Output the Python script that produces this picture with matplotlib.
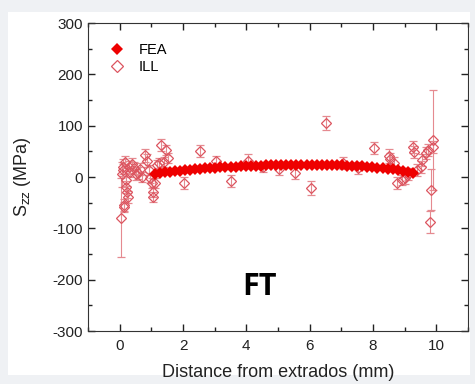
import matplotlib.pyplot as plt
from matplotlib.lines import Line2D
from matplotlib.patches import Rectangle
from matplotlib.ticker import MultipleLocator

plt.rcParams['font.family'] = ['Liberation Sans', 'DejaVu Sans']
plt.rcParams['axes.unicode_minus'] = False

# FEA prediction (filled diamonds)
fea_x = [1.10, 1.26, 1.42, 1.58, 1.74, 1.90, 2.06, 2.22, 2.38, 2.54, 2.70, 2.86, 3.02,
         3.18, 3.34, 3.50, 3.66, 3.82, 3.98, 4.14, 4.30, 4.46, 4.62, 4.78, 4.94, 5.10,
         5.26, 5.42, 5.58, 5.74, 5.90, 6.06, 6.22, 6.38, 6.54, 6.70, 6.86, 7.02, 7.18,
         7.34, 7.50, 7.66, 7.82, 7.98, 8.14, 8.30, 8.46, 8.62, 8.78, 8.94, 9.10, 9.26]
fea_y = [5, 7, 9, 10, 11, 12, 13, 14, 15, 16, 17, 17, 18,
         19, 19, 20, 20, 21, 21, 22, 22, 22, 23, 23, 23, 23,
         24, 24, 24, 24, 24, 24, 24, 24, 24, 23, 23, 23, 22,
         22, 21, 21, 20, 19, 18, 17, 16, 15, 14, 12, 10, 8]

# ILL measurements (open diamonds with error bars)
ill_x = [0.05, 0.08, 0.10, 0.12, 0.13, 0.15, 0.17, 0.19, 0.20, 0.22, 0.25, 0.28, 0.33,
         0.38, 0.44, 0.50, 0.57, 0.65, 0.72, 0.80, 0.85, 0.91, 0.95, 1.02, 1.04, 1.06,
         1.13, 1.19, 1.23, 1.29, 1.41, 1.45, 1.54, 2.04, 2.55, 3.05, 3.52, 4.06, 4.53,
         5.03, 5.53, 6.03, 6.53, 7.04, 7.52, 8.02, 8.49, 8.55, 8.65, 8.77, 8.90, 9.00,
         9.12, 9.25, 9.28, 9.40, 9.50, 9.56, 9.68, 9.75, 9.88, 9.90, 9.84, 9.81]
ill_y = [-79, 5, 20, 14, -59, -55, 29, -6, -19, -29, -39, 20, 10,
         25, 18, 5, 8, 15, 0, 42, 32, 14, -2, -12, -29, -39,
         -12, 23, 27, 62, 29, 52, 37, -12, 51, 31, -8, 32, 20,
         15, 8, -21, 105, 27, 17, 57, 41, 35, 27, -12, -6, -2,
         6, 59, 49, 14, 20, 33, 47, 53, 72, 59, -25, -88]
ill_err = [77, 25, 15, 12, 10, 12, 12, 12, 12, 12, 12, 12, 10,
           12, 12, 10, 12, 12, 10, 12, 12, 10, 10, 10, 10, 10,
           10, 10, 10, 12, 10, 10, 10, 12, 12, 10, 12, 12, 10,
           12, 12, 14, 14, 12, 12, 12, 14, 12, 12, 12, 10, 12,
           12, 12, 12, 12, 12, 12, 12, 12, 97, 12, 40, 22]

ill_edge = '#dc5560'
fea_color = '#ee0000'

fig = plt.figure(figsize=(4.75, 3.84), dpi=100)
fig.patch.set_facecolor('#eff1f4')
fig.patches.append(Rectangle((0.017, 0.023), 0.972, 0.946, transform=fig.transFigure,
                             facecolor='white', edgecolor='none', zorder=-1))

ax = fig.add_axes([0.1853, 0.138, 0.80, 0.802])

ax.errorbar(ill_x, ill_y, yerr=ill_err, fmt='D', mfc='none', mec=ill_edge, mew=0.9,
            ms=5.5, ecolor='#e58a90', elinewidth=0.8, capsize=3, capthick=0.8,
            zorder=2)
ax.plot(fea_x, fea_y, 'D', color=fea_color, ms=6, mew=0, zorder=3)

ax.set_xlim(-1, 11)
ax.set_ylim(-300, 300)
ax.xaxis.set_major_locator(MultipleLocator(2))
ax.xaxis.set_minor_locator(MultipleLocator(1))
ax.yaxis.set_major_locator(MultipleLocator(100))
ax.yaxis.set_minor_locator(MultipleLocator(50))
ax.tick_params(which='both', direction='in', top=True, right=True, labelsize=11,
               colors='#222222')
ax.tick_params(which='major', length=5, width=1)
ax.tick_params(which='minor', length=3, width=1)
ax.tick_params(axis='x', pad=6)
for sp in ax.spines.values():
    sp.set_color('#333333')

ax.set_xlabel('Distance from extrados (mm)', fontsize=13, color='#222222', labelpad=8)
ax.set_ylabel(r'S$_{\mathrm{zz}}$ (MPa)', fontsize=13, color='#222222', labelpad=14)

# legend handles without the error bars
handles = [Line2D([], [], ls='none', marker='D', color=fea_color, ms=6, mew=0),
           Line2D([], [], ls='none', marker='D', mfc='none', mec=ill_edge, ms=6, mew=0.9)]
ax.legend(handles, ['FEA', 'ILL'], loc='upper left', frameon=False, fontsize=10.5,
          handletextpad=0.9, borderaxespad=1.0, labelspacing=0.2, handlelength=1.2)

ax.text(4.4, -215, 'FT', fontsize=22, fontweight='bold', family='Open Sans',
        ha='center', va='center')

fig.savefig('out.png', dpi=100, facecolor=fig.get_facecolor())
